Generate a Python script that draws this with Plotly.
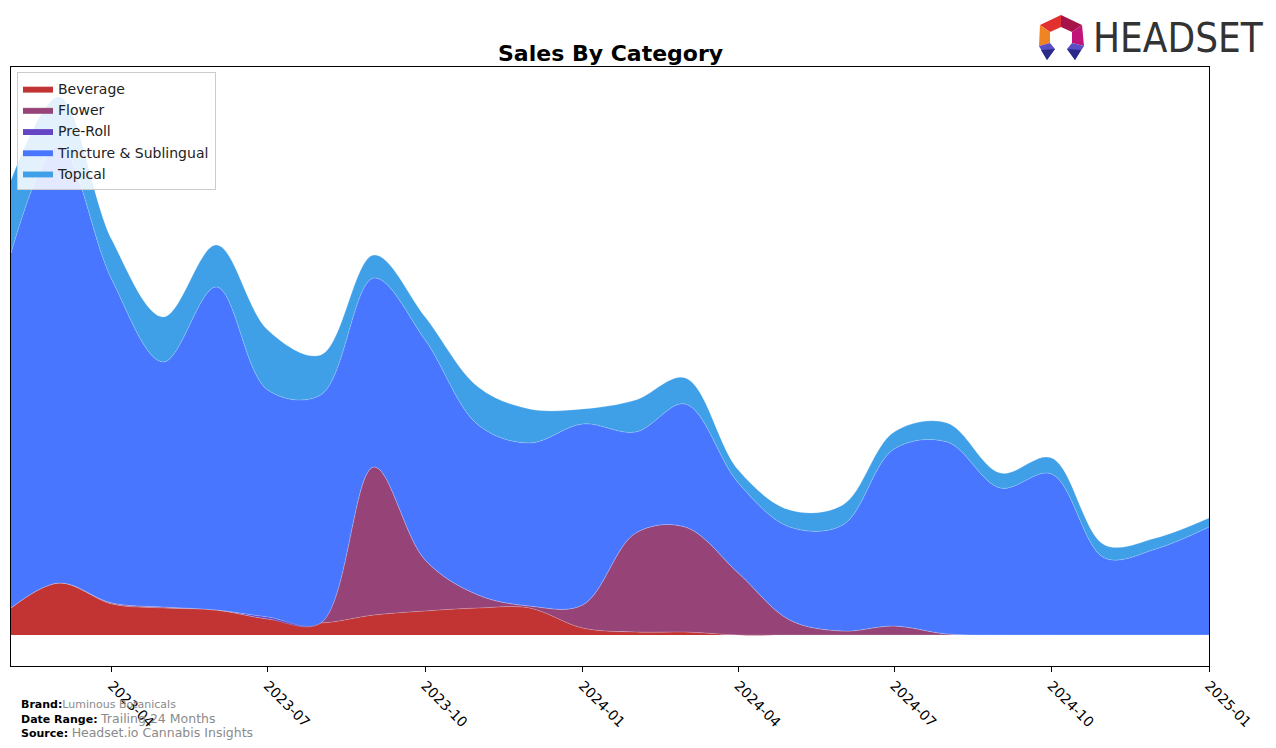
import plotly.graph_objects as go

# ---- data (monthly) ----
months = ["2023-02-01", "2023-03-01", "2023-04-01", "2023-05-01", "2023-06-01", "2023-07-01",
          "2023-08-01", "2023-09-01", "2023-10-01", "2023-11-01", "2023-12-01", "2024-01-01",
          "2024-02-01", "2024-03-01", "2024-04-01", "2024-05-01", "2024-06-01", "2024-07-01",
          "2024-08-01", "2024-09-01", "2024-10-01", "2024-11-01", "2024-12-01", "2025-01-01"]

beverage = [27, 52, 31, 27, 25, 16, 12, 20, 24, 27, 27, 7,
            3, 3, 0, 0, 0, 0, 0, 0, 0, 0, 0, 0]
flower = [0, 0, 1, 1, 0, 0, 0, 148, 51, 13, 2, 23,
          99, 105, 62, 15, 4, 9, 1, 0, 0, 0, 0, 0]
pre_roll = [0, 0, 0, 0, 0, 2, 0, 0, 0, 0, 0, 0,
            0, 0, 0, 0, 0, 0, 0, 0, 0, 0, 0, 0]
tincture = [355, 438, 323, 245, 323, 227, 228, 189, 220, 170, 163, 181,
            101, 123, 90, 93, 106, 177, 192, 147, 161, 77, 86, 108]
topical = [73, 48, 40, 45, 42, 60, 40, 23, 23, 38, 34, 15,
           32, 26, 13, 17, 20, 17, 19, 15, 16, 13, 11, 9]

series_names = ["Beverage", "Flower", "Pre-Roll", "Tincture & Sublingual", "Topical"]
series_values = [beverage, flower, pre_roll, tincture, topical]
series_colors = ["#c13433", "#964378", "#6446c4", "#4876ff", "#3fa0e8"]

tick_vals = ["2023-04-01", "2023-07-01", "2023-10-01", "2024-01-01",
             "2024-04-01", "2024-07-01", "2024-10-01", "2025-01-01"]
tick_text = ["2023-04", "2023-07", "2023-10", "2024-01",
             "2024-04", "2024-07", "2024-10", "2025-01"]

# ---- figure ----
W, H = 1276, 748
L, R, T, B = 11, 1209, 67, 666

fig = go.Figure()
for name, vals, col in zip(series_names, series_values, series_colors):
    fig.add_trace(go.Scatter(
        x=months, y=vals, name=name, mode="lines",
        stackgroup="one",
        line=dict(width=0.6, shape="spline", smoothing=1.0, color="rgba(255,255,255,0.35)"),
        fillcolor=col, hoverinfo="skip",
    ))


def px(x):
    return (x - L) / (R - L)


def py(y):
    return (B - y) / (B - T)


annotations = [
    dict(text="<b>Sales By Category</b>", x=px(610), y=py(53), xref="paper", yref="paper",
         showarrow=False, xanchor="center", yanchor="middle",
         font=dict(family="DejaVu Sans", size=22, color="black")),
    dict(text="<b>Brand:</b><span style='color:#8a8a8a;font-size:11px'>Luminous Botanicals</span>",
         x=px(19), y=py(704), xref="paper", yref="paper", showarrow=False,
         xanchor="left", yanchor="middle", font=dict(family="DejaVu Sans", size=11, color="black")),
    dict(text="<b>Date Range:</b> <span style='color:#8a8a8a;font-size:12.5px'>Trailing 24 Months</span>",
         x=px(19), y=py(718), xref="paper", yref="paper", showarrow=False,
         xanchor="left", yanchor="middle", font=dict(family="DejaVu Sans", size=11, color="black")),
    dict(text="<b>Source:</b> <span style='color:#8a8a8a;font-size:12.5px'>Headset.io Cannabis Insights</span>",
         x=px(19), y=py(732), xref="paper", yref="paper", showarrow=False,
         xanchor="left", yanchor="middle", font=dict(family="DejaVu Sans", size=11, color="black")),
    dict(text="HEADSET", x=px(1091), y=py(38), xref="paper", yref="paper", showarrow=False,
         xanchor="left", yanchor="middle",
         font=dict(family="Liberation Sans Narrow, DejaVu Sans Condensed, Arial Narrow, sans-serif",
                   size=40, color="#333333")),
]


def poly(points, color):
    d = "M " + " L ".join(f"{px(a):.5f},{py(b):.5f}" for a, b in points) + " Z"
    return dict(type="path", path=d, xref="paper", yref="paper",
                fillcolor=color, line=dict(width=0), layer="above")


shapes = [
    poly([(1040, 25), (1061, 15), (1061, 27), (1050, 32)], "#e2302e"),
    poly([(1061, 15), (1082, 25), (1072, 32), (1061, 27)], "#a8124a"),
    poly([(1040, 25), (1050, 32), (1050, 43), (1039, 46)], "#f28323"),
    poly([(1082, 25), (1084, 46), (1072, 43), (1072, 32)], "#c01478"),
    poly([(1039, 46), (1050, 43), (1055, 49), (1047, 60)], "#5a4ec6"),
    poly([(1084, 46), (1072, 43), (1067, 49), (1075, 60)], "#5a4ec6"),
    poly([(1047, 60), (1055, 49), (1041, 50)], "#2b2a86"),
    poly([(1075, 60), (1067, 49), (1081, 50)], "#2b2a86"),
]

fig.update_layout(
    width=W, height=H,
    margin=dict(l=L, r=W - R, t=T, b=H - B),
    paper_bgcolor="white", plot_bgcolor="white",
    font=dict(family="DejaVu Sans", size=12, color="black"),
    showlegend=True,
    legend=dict(x=px(17), y=py(72), xanchor="left", yanchor="top",
                bgcolor="rgba(255,255,255,0.85)", bordercolor="#cccccc", borderwidth=1,
                font=dict(family="DejaVu Sans", size=14, color="#222222"),
                traceorder="normal", tracegroupgap=0),
    annotations=annotations,
    shapes=shapes,
    xaxis=dict(type="date", range=["2023-02-01", "2025-01-01"],
               tickvals=tick_vals, ticktext=tick_text, tickangle=45,
               ticks="outside", ticklen=5, tickcolor="black", tickwidth=1,
               showline=True, linecolor="black", linewidth=1, mirror=True,
               showgrid=False, zeroline=False,
               tickfont=dict(family="DejaVu Sans", size=14, color="black")),
    yaxis=dict(range=[-31, 568], showticklabels=False, ticks="",
               showline=True, linecolor="black", linewidth=1, mirror=True,
               showgrid=False, zeroline=False),
)

fig.write_html("out.html")
